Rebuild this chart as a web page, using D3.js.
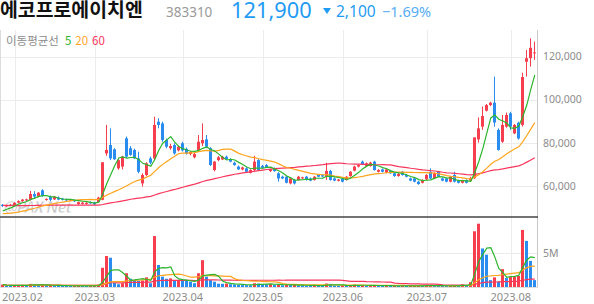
<!DOCTYPE html>
<html>
<head>
<meta charset="utf-8">
<script src="https://cdnjs.cloudflare.com/ajax/libs/d3/7.8.5/d3.min.js"></script>
<style>
  body { margin: 0; background: #fff; }
  svg { display: block; font-family: "Noto Sans", sans-serif; }
</style>
</head>
<body>
<div id="chart"></div>
<script>
var stockName = "에코프로에이치엔",
    stockCode = "383310";

// trading days shown
var dates = [
  "2023-01-27","2023-01-30","2023-01-31",
  "2023-02-01","2023-02-02","2023-02-03","2023-02-06","2023-02-07","2023-02-08","2023-02-09","2023-02-10",
  "2023-02-13","2023-02-14","2023-02-15","2023-02-16","2023-02-17","2023-02-20","2023-02-21","2023-02-22",
  "2023-02-23","2023-02-24","2023-02-27","2023-02-28",
  "2023-03-02","2023-03-03","2023-03-06","2023-03-07","2023-03-08","2023-03-09","2023-03-10","2023-03-13",
  "2023-03-14","2023-03-15","2023-03-16","2023-03-17","2023-03-20","2023-03-21","2023-03-22","2023-03-23",
  "2023-03-24","2023-03-27","2023-03-28","2023-03-29","2023-03-30","2023-03-31",
  "2023-04-03","2023-04-04","2023-04-05","2023-04-06","2023-04-07","2023-04-10","2023-04-11","2023-04-12",
  "2023-04-13","2023-04-14","2023-04-17","2023-04-18","2023-04-19","2023-04-20","2023-04-21","2023-04-24",
  "2023-04-25","2023-04-26","2023-04-27","2023-04-28",
  "2023-05-02","2023-05-03","2023-05-04","2023-05-08","2023-05-09","2023-05-10","2023-05-11","2023-05-12",
  "2023-05-15","2023-05-16","2023-05-17","2023-05-18","2023-05-19","2023-05-22","2023-05-23","2023-05-24",
  "2023-05-25","2023-05-26","2023-05-30","2023-05-31",
  "2023-06-01","2023-06-02","2023-06-05","2023-06-07","2023-06-08","2023-06-09","2023-06-12","2023-06-13",
  "2023-06-14","2023-06-15","2023-06-16","2023-06-19","2023-06-20","2023-06-21","2023-06-22","2023-06-23",
  "2023-06-26","2023-06-27","2023-06-28","2023-06-29","2023-06-30",
  "2023-07-03","2023-07-04","2023-07-05","2023-07-06","2023-07-07","2023-07-10","2023-07-11","2023-07-12",
  "2023-07-13","2023-07-14","2023-07-17","2023-07-18","2023-07-19","2023-07-20","2023-07-21","2023-07-24",
  "2023-07-25","2023-07-26","2023-07-27","2023-07-28","2023-07-31",
  "2023-08-01","2023-08-02","2023-08-03","2023-08-04","2023-08-07","2023-08-08","2023-08-09"
];

var opens = [
  51300, 50600, 50900,
  51200, 52300, 53000, 53300, 53600, 56300, 55100, 58000, 53600, 55000, 53800, 54700, 54200, 53800, 53300, 53500, 51600, 51700, 51700, 52600,
  52300, 52600, 53600, 75100, 79000, 77000, 68200, 69000, 82100, 77500, 76700, 72800, 61200, 65100, 72800, 72800, 89800, 89000, 81300, 77500, 79000, 76500,
  79800, 77200, 74800, 73300, 76700, 79800, 81600, 77500, 67400, 72000, 72300, 73600, 72400, 70800, 69000, 67700, 68200, 66100, 67400, 72000,
  69300, 69700, 66900, 68200, 65900, 64300, 64300, 61200, 62800, 62800, 63600, 64300, 63500, 62800, 65100, 65000, 64300, 67000, 63500, 62400,
  63500, 62800, 64600, 67100, 69000, 71300, 69300, 69300, 71300, 66600, 67700, 66200, 67100, 65900, 64600, 66600, 65100, 63500, 63500, 62000, 61500,
  63100, 66600, 63500, 66600, 63500, 63500, 62000, 65100, 62500, 61500, 62800, 62500, 63600, 81600, 87500, 94900, 97500, 98600, 86000, 80500, 87500,
  93700, 84400, 89300, 88300, 117600, 119200, 121500
];
var highs = [
  51600, 51300, 51700,
  52500, 53400, 54000, 54100, 57700, 57600, 57200, 58500, 54300, 55600, 55400, 55200, 54500, 54200, 54000, 53800, 52800, 52600, 52500, 52900,
  52700, 55000, 71000, 88300, 86700, 77500, 72500, 74000, 82900, 78500, 77300, 75900, 65900, 71000, 73600, 92100, 91400, 89800, 82000, 79500, 79800, 78800,
  80500, 77800, 76200, 75300, 83600, 89000, 83600, 78000, 71500, 73900, 74000, 74100, 72900, 71300, 69500, 69000, 68700, 67800, 74000, 72500,
  69800, 70200, 68000, 68600, 66400, 64800, 64600, 63900, 63300, 64700, 64300, 64700, 63900, 64600, 65500, 65400, 70800, 67500, 63900, 63300,
  63800, 64600, 66900, 69400, 70100, 71800, 70900, 71200, 71700, 67800, 68100, 68000, 67500, 66300, 66000, 67000, 65500, 63900, 63800, 62400, 63100,
  65500, 68200, 66300, 67000, 63900, 63800, 64700, 66600, 62900, 62900, 63100, 64300, 82500, 91800, 96800, 98000, 99000, 110700, 86700, 92900, 94000,
  94400, 88700, 89800, 112500, 123000, 128400, 126900
];
var lows = [
  50300, 50300, 50600,
  50900, 52000, 52700, 53000, 53300, 54300, 54800, 55000, 53200, 53000, 53500, 53400, 53300, 53000, 53000, 52600, 51300, 51400, 51400, 51700,
  51200, 52300, 53400, 74000, 72000, 72000, 67500, 67700, 73000, 74000, 72500, 65900, 59700, 64500, 70000, 72000, 86700, 80500, 77500, 76800, 74500, 76000,
  76000, 74600, 74200, 72800, 76000, 78500, 77500, 69300, 66800, 71500, 72000, 72000, 71000, 69400, 67400, 67300, 66300, 65800, 66800, 67000,
  68000, 68400, 66500, 66600, 62000, 63200, 61200, 60800, 60700, 62500, 63200, 62500, 62200, 62500, 64000, 64100, 62800, 62500, 62200, 62100,
  61700, 62500, 64300, 66800, 68600, 69800, 69000, 69000, 67100, 66300, 66300, 65900, 65600, 64300, 64300, 64800, 64000, 62200, 61700, 60600, 61200,
  62800, 63200, 63200, 64000, 62200, 61700, 61700, 61700, 61200, 61200, 61200, 62200, 63300, 80100, 86000, 94500, 97000, 87500, 76400, 80000, 87000,
  86000, 84000, 81500, 87500, 110700, 115300, 118400
];
var closes = [
  50700, 51000, 51300,
  52200, 53000, 53700, 53800, 56300, 55100, 56900, 55400, 54000, 53600, 55000, 53700, 53600, 53300, 53700, 52900, 52500, 52300, 52200, 52000,
  51500, 54600, 71000, 76700, 72800, 72400, 72000, 73600, 73600, 74400, 72800, 66600, 65100, 70500, 70800, 88300, 88300, 81300, 78200, 78500, 75100, 78200,
  76500, 75000, 75700, 74800, 80500, 81300, 78200, 69700, 71300, 73300, 73600, 72400, 71300, 69700, 67700, 68600, 66600, 67400, 71300, 67400,
  68400, 68700, 67700, 66900, 63500, 63500, 61500, 63500, 61200, 64300, 64000, 62800, 62500, 64300, 64300, 64400, 67000, 62800, 62500, 63000,
  62000, 64300, 66600, 69000, 69700, 70200, 70500, 70800, 67400, 67400, 66600, 67700, 65900, 64600, 65600, 65100, 64300, 62500, 62000, 60900, 62800,
  65100, 63500, 65900, 64300, 62500, 62000, 64300, 62000, 61500, 62500, 61500, 63500, 82500, 86700, 92400, 97500, 98600, 89400, 76700, 88300, 92900,
  87500, 88300, 82000, 110500, 119200, 124000, 121900
];

// closes before the first visible day, needed for the 20/60 day averages
var priorCloses = [
  53500, 54200, 53800, 52900, 53400, 54100, 54800, 54300, 53600, 52800, 53200, 53900, 54500, 53700, 52600, 52100,
  52800, 53400, 52900, 52300, 51800, 52400, 53100, 52700,
  53200, 53800, 53100, 52500, 53000, 53600, 52900, 52200, 52700, 53300, 52600, 51900, 52400, 51700, 51200, 50600,
  49800, 48600, 47500, 46800, 46200, 45700, 46300, 45800, 45200, 45900, 46600, 46100, 46900, 47400, 47000,
  47300, 48100, 47800, 48600
];

// volume, thousand shares
var volumes = [
  350, 200, 180,
  220, 250, 300, 220, 450, 300, 280, 320, 200, 250, 220, 200, 180, 170, 150, 160, 200, 150, 140, 150,
  160, 350, 2800, 4500, 4250, 600, 400, 550, 2000, 1200, 1000, 900, 950, 1400, 550, 7400, 3200, 1500, 1200, 1250, 900, 1000,
  950, 900, 750, 550, 2000, 3900, 1500, 1000, 770, 480, 470, 500, 400, 380, 300, 280, 270, 250, 550, 500,
  400, 380, 420, 300, 350, 250, 300, 280, 300, 260, 220, 200, 180, 250, 200, 180, 500, 450, 200, 180,
  220, 200, 250, 350, 220, 250, 200, 220, 250, 180, 150, 200, 150, 180, 140, 200, 150, 160, 180, 200, 170,
  220, 250, 200, 180, 150, 140, 200, 250, 150, 380, 200, 700, 8100, 9200, 5600, 4700, 1000, 1400, 800, 2600, 1300,
  1500, 1550, 1600, 8300, 6700, 3800, 1000
];

var priceTicks = [60000, 80000, 100000, 120000];
var volumeTicks = [5000];
var maPeriods = [5, 20, 60];
var maColors = ["#2db52d", "#ffa41c", "#f8365c"];
var upColor = "#f73e4e", downColor = "#2b8cf0";

var width = 594, height = 304;
var plotRight = 537,
    priceTop = 30, priceBottom = 216,
    volTop = 218, volBottom = 287;

var svg = d3.select("#chart").append("svg")
    .attr("width", width)
    .attr("height", height);

var x = d3.scaleBand().domain(dates).range([0.8, 536.8]);
function cx(i) { return x(dates[i]) + x.bandwidth() / 2; }

var y = d3.scaleLinear().domain([60000, 120000]).range([186, 56.5]);
var yv = d3.scaleLinear().domain([0, 5000]).range([volBottom, 252.6]);

var defs = svg.append("defs");
defs.append("clipPath").attr("id", "clipPrice")
  .append("rect").attr("x", 0).attr("y", priceTop).attr("width", plotRight).attr("height", priceBottom - priceTop);
defs.append("clipPath").attr("id", "clipVol")
  .append("rect").attr("x", 0).attr("y", volTop).attr("width", plotRight).attr("height", volBottom - volTop);

// month starts
var monthIdx = [];
dates.forEach(function(d, i) {
  if (i > 0 && d.slice(5, 7) != dates[i - 1].slice(5, 7)) monthIdx.push(i);
});

// grid
var grid = svg.append("g");
grid.selectAll(".vg").data(monthIdx).enter().append("line")
  .attr("x1", function(i) { return Math.round(cx(i)) + 0.5; })
  .attr("x2", function(i) { return Math.round(cx(i)) + 0.5; })
  .attr("y1", priceTop).attr("y2", volBottom)
  .attr("stroke", "#ececec");
grid.selectAll(".hg").data(priceTicks).enter().append("line")
  .attr("x1", 0).attr("x2", plotRight)
  .attr("y1", function(d) { return Math.round(y(d)) + 0.5; })
  .attr("y2", function(d) { return Math.round(y(d)) + 0.5; })
  .attr("stroke", "#ececec");
grid.selectAll(".hv").data(volumeTicks).enter().append("line")
  .attr("x1", 0).attr("x2", plotRight)
  .attr("y1", function(d) { return Math.round(yv(d)) + 0.5; })
  .attr("y2", function(d) { return Math.round(yv(d)) + 0.5; })
  .attr("stroke", "#ececec");

// watermark
svg.append("text")
  .attr("x", 4).attr("y", 213)
  .attr("font-size", 16).attr("font-weight", "bold").attr("font-style", "italic")
  .attr("fill", "#b4b4b4").attr("opacity", 0.75)
  .attr("stroke", "#fff").attr("stroke-width", 0.6)
  .attr("textLength", 68)
  .text("@PAX Net");

// moving averages
var allCloses = priorCloses.concat(closes);
var off = priorCloses.length;
function priceMA(n) {
  return closes.map(function(c, i) {
    return d3.mean(allCloses.slice(off + i - n + 1, off + i + 1));
  });
}
function volMA(n) {
  return volumes.map(function(v, i) {
    return d3.mean(volumes.slice(Math.max(0, i - n + 1), i + 1));
  });
}

// volume bars
var vol = svg.append("g").attr("clip-path", "url(#clipVol)");
vol.selectAll("rect").data(volumes).enter().append("rect")
  .attr("x", function(d, i) { return Math.round(cx(i) - 1.5); })
  .attr("width", 3)
  .attr("y", function(d) { return yv(d); })
  .attr("height", function(d) { return volBottom - yv(d); })
  .attr("fill", function(d, i) { return (i == 0 || d >= volumes[i - 1]) ? upColor : downColor; });

var vline = d3.line().x(function(d, i) { return cx(i); }).y(function(d) { return yv(d); });
[2, 1, 0].forEach(function(k) {
  vol.append("path").datum(volMA(maPeriods[k]))
    .attr("d", vline).attr("fill", "none")
    .attr("stroke", maColors[k]).attr("stroke-width", 1.2);
});

// candles
var price = svg.append("g").attr("clip-path", "url(#clipPrice)");
var candle = price.selectAll(".c").data(dates).enter().append("g");
candle.append("line")
  .attr("x1", function(d, i) { return Math.round(cx(i) - 1.5) + 1.5; })
  .attr("x2", function(d, i) { return Math.round(cx(i) - 1.5) + 1.5; })
  .attr("y1", function(d, i) { return y(highs[i]); })
  .attr("y2", function(d, i) { return y(lows[i]); })
  .attr("stroke", function(d, i) { return closes[i] >= opens[i] ? upColor : downColor; });
candle.append("rect")
  .attr("x", function(d, i) { return Math.round(cx(i) - 1.5); })
  .attr("width", 3)
  .attr("y", function(d, i) { return y(Math.max(opens[i], closes[i])); })
  .attr("height", function(d, i) { return Math.max(1, Math.abs(y(opens[i]) - y(closes[i]))); })
  .attr("fill", function(d, i) { return closes[i] >= opens[i] ? upColor : downColor; });

var pline = d3.line().x(function(d, i) { return cx(i); }).y(function(d) { return y(d); });
[2, 1, 0].forEach(function(k) {
  price.append("path").datum(priceMA(maPeriods[k]))
    .attr("d", pline).attr("fill", "none")
    .attr("stroke", maColors[k]).attr("stroke-width", 1.2);
});

// frame
svg.append("line").attr("x1", 0.5).attr("x2", 0.5).attr("y1", priceTop).attr("y2", volBottom).attr("stroke", "#dcdcdc");
svg.append("line").attr("x1", plotRight + 0.5).attr("x2", plotRight + 0.5).attr("y1", priceTop).attr("y2", volBottom).attr("stroke", "#c8c8c8");
svg.append("line").attr("x1", 0).attr("x2", plotRight + 1).attr("y1", 217).attr("y2", 217).attr("stroke", "#444").attr("stroke-width", 1.5);
svg.append("line").attr("x1", 0).attr("x2", plotRight + 1).attr("y1", volBottom + 0.5).attr("y2", volBottom + 0.5).attr("stroke", "#dcdcdc");

// right axis labels
svg.selectAll(".pl").data(priceTicks).enter().append("text")
  .attr("x", 543).attr("y", function(d) { return y(d); })
  .attr("dy", "0.35em").attr("font-size", 10.5).attr("fill", "#8c8c8c")
  .text(d3.format(","));
svg.selectAll(".vl").data(volumeTicks).enter().append("text")
  .attr("x", 543).attr("y", function(d) { return yv(d) + 1; })
  .attr("dy", "0.35em").attr("font-size", 10.5).attr("fill", "#8c8c8c")
  .text(function(d) { return (d / 1000) + "M"; });

// month labels
svg.selectAll(".ml").data(monthIdx).enter().append("text")
  .attr("y", 301).attr("font-size", 11).attr("fill", "#8c8c8c")
  .attr("text-anchor", "middle")
  .text(function(i) { return dates[i].slice(0, 7).replace("-", "."); })
  .attr("x", function(i) {
    var w = this.getComputedTextLength();
    return Math.max(cx(i), w / 2 + 2);
  });

// legend
var legend = svg.append("text").attr("x", 6).attr("y", 45).attr("font-size", 11.5)
  .attr("font-family", "'Noto Sans CJK KR', sans-serif");
legend.append("tspan").attr("fill", "#8c8c8c").text("이동평균선");
maPeriods.forEach(function(p, k) {
  legend.append("tspan").attr("dx", k == 0 ? 6 : 4).attr("fill", maColors[k]).text(p);
});

// header
var last = closes[closes.length - 1],
    prev = closes[closes.length - 2],
    diff = last - prev;
svg.append("text").attr("x", 0).attr("y", 17)
  .attr("font-family", "'Noto Sans CJK KR', sans-serif")
  .attr("font-size", 19.4).attr("font-weight", "bold").attr("fill", "#111")
  .text(stockName);
svg.append("text").attr("x", 166).attr("y", 16.5)
  .attr("font-size", 13.5).attr("fill", "#9a9a9a").text(stockCode);
svg.append("text").attr("x", 231).attr("y", 18)
  .attr("font-size", 21.8).attr("fill", "#1f9bf5").text(d3.format(",")(last));
svg.append("path")
  .attr("d", diff < 0 ? "M323,8L331,8L327,14Z" : "M323,14L331,14L327,8Z")
  .attr("fill", "#1f9bf5");
svg.append("text").attr("x", 336).attr("y", 17)
  .attr("font-size", 15.5).attr("fill", "#1f9bf5").text(d3.format(",")(Math.abs(diff)));
svg.append("text").attr("x", 382).attr("y", 17)
  .attr("font-size", 14.5).attr("fill", "#55acf5").text(d3.format(".2f")(diff / prev * 100) + "%");
</script>
</body>
</html>
